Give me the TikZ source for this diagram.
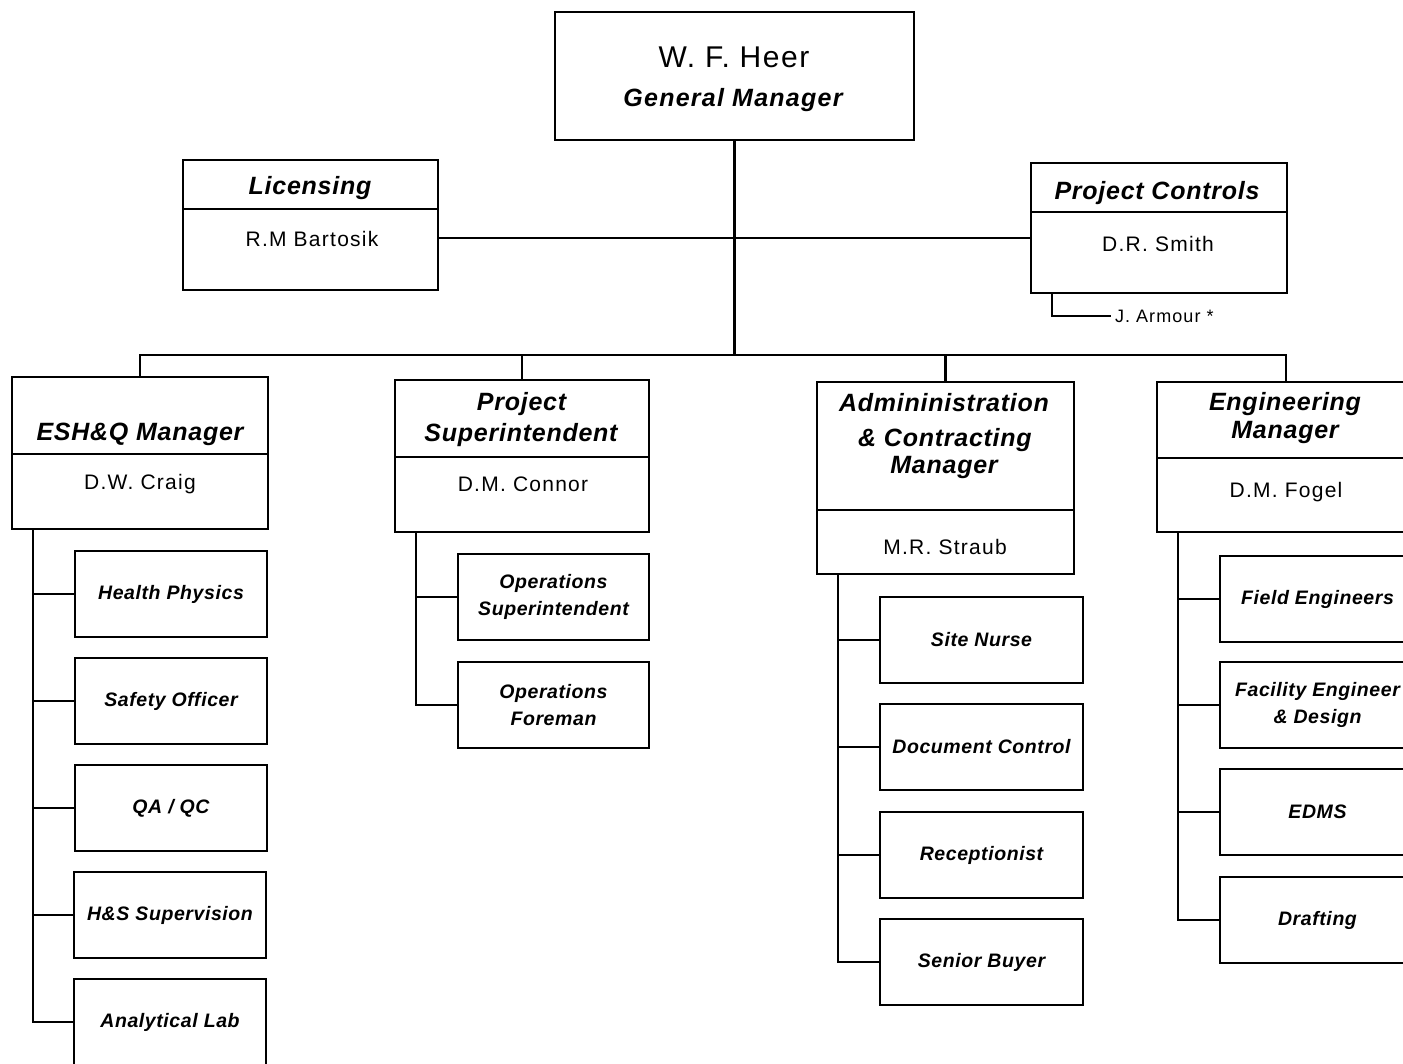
\documentclass[tikz,border=0pt]{standalone}
\usepackage{fontspec}
\setmainfont{Liberation Sans}[LetterSpace=3]
\newfontfamily\namefont{Liberation Sans}[LetterSpace=6]
\newfontfamily\widefont{Liberation Sans}[LetterSpace=5]
\usetikzlibrary{calc}

\begin{document}
\begin{tikzpicture}[x=1pt,y=-1pt,
  frame/.style={draw, line width=2.3pt, inner sep=0pt, outer sep=0pt, anchor=north west},
  wire/.style={line width=2.3pt},
  ln/.style={inner sep=0pt, outer sep=0pt, anchor=center, text depth=0pt},
  gmname/.style={ln, font=\widefont\fontsize{30}{34}\selectfont, text height=21.5pt},
  gmrole/.style={ln, font=\widefont\fontsize{25}{30}\selectfont\bfseries\itshape, text height=17.9pt},
  head/.style={ln, font=\fontsize{25}{30}\selectfont\bfseries\itshape, text height=17.9pt},
  who/.style={ln, font=\namefont\fontsize{21}{25}\selectfont, text height=15pt},
  unit/.style={frame, font=\fontsize{19.5}{26.5}\selectfont\bfseries\itshape, align=center, minimum height=86pt},
]
\useasboundingbox (0,0) rectangle (1403,1063);
\fill[white] (0,0) rectangle (1403,1063);
\clip (0,0) rectangle (1403,1063);

% General manager
\node[frame, minimum width=359pt, minimum height=128pt] (gm) at (555,12) {};
\node[gmname] (gmN) at (734,57) {W. F. Heer};
\node[gmrole] (gmR) at (733,97.5) {General Manager};

% Staff boxes
\node[frame, minimum width=255pt, minimum height=49pt] (licT) at (183,160) {};
\node[frame, minimum width=255pt, minimum height=81pt] (licN) at (183,209) {};
\node[head] (licTx) at (310,186) {Licensing};
\node[who] (licNx) at (312,239) {R.M Bartosik};

\node[frame, minimum width=256pt, minimum height=49pt] (pcT) at (1031,163) {};
\node[frame, minimum width=256pt, minimum height=81pt] (pcN) at (1031,212) {};
\node[head] (pcTx) at (1157,191) {Project Controls};
\node[who] (pcNx) at (1158,244) {D.R. Smith};
\node[who, font=\namefont\fontsize{18}{22}\selectfont, text height=13pt, anchor=west, inner xsep=4pt] (ja) at (1111,316) {J. Armour *};

% Department managers
\node[frame, minimum width=256pt, minimum height=77pt] (eshT) at (12,377) {};
\node[frame, minimum width=256pt, minimum height=75pt] (eshN) at (12,454) {};
\node[head] (eshTx) at (140,431.5) {ESH\&Q Manager};
\node[who] (eshNx) at (140,482) {D.W. Craig};

\node[frame, minimum width=254pt, minimum height=77pt] (psT) at (395,380) {};
\node[frame, minimum width=254pt, minimum height=75pt] (psN) at (395,457) {};
\node[head] (psTx1) at (521.5,401.5) {Project};
\node[head] (psTx2) at (521,432.5) {Superintendent};
\node[who] (psNx) at (523,484) {D.M. Connor};

\node[frame, minimum width=257pt, minimum height=128pt] (adT) at (817,382) {};
\node[frame, minimum width=257pt, minimum height=64pt] (adN) at (817,510) {};
\node[head] (adTx1) at (944,403) {Admininistration};
\node[head] (adTx2) at (945,437.5) {\& Contracting};
\node[head] (adTx3) at (944,465) {Manager};
\node[who] (adNx) at (945,547) {M.R. Straub};

\node[frame, minimum width=258pt, minimum height=76pt] (enT) at (1157,382) {};
\node[frame, minimum width=258pt, minimum height=74pt] (enN) at (1157,458) {};
\node[head] (enTx1) at (1285,401.5) {Engineering};
\node[head] (enTx2) at (1285,430) {Manager};
\node[who] (enNx) at (1286,490) {D.M. Fogel};

% Sections
\node[unit, minimum width=192pt] (hp) at (75,551) {Health Physics};
\node[unit, minimum width=192pt] (so) at (75,658) {Safety Officer};
\node[unit, minimum width=192pt] (qa) at (75,765) {QA / QC};
\node[unit, minimum width=192pt] (hs) at (74,872) {H\&S Supervision};
\node[unit, minimum width=192pt] (al) at (74,979) {Analytical Lab};

\node[unit, minimum width=191pt] (os) at (458,554) {Operations\\Superintendent};
\node[unit, minimum width=191pt] (of) at (458,662) {Operations\\Foreman};

\node[unit, minimum width=203pt] (sn) at (880,597) {Site Nurse};
\node[unit, minimum width=203pt] (dc) at (880,704) {Document Control};
\node[unit, minimum width=203pt] (rc) at (880,812) {Receptionist};
\node[unit, minimum width=203pt] (sb) at (880,919) {Senior Buyer};

\node[unit, minimum width=195pt] (fe) at (1220,556) {Field Engineers};
\node[unit, minimum width=195pt] (fa) at (1220,662) {Facility Engineer\\\& Design};
\node[unit, minimum width=195pt] (ed) at (1220,769) {EDMS};
\node[unit, minimum width=195pt] (dr) at (1220,877) {Drafting};

% Reporting lines
\coordinate (bus) at ($(eshT.north)+(0,-22)$);
\draw[wire] (eshT.north) -- (bus) -| (enT.north);
\draw[wire] (gm.south) -- (gm.south |- bus);
\draw[wire] (psT.north) -- (psT.north |- bus);
\draw[wire] (adT.north) -- (adT.north |- bus);
\coordinate (lk) at ($(licN.north east)+(0,29)$);
\draw[wire] (lk) -- (lk -| pcN.west);
\draw[wire] ($(pcN.south west)+(21,0)$) |- (ja.west);

\coordinate (eshS) at ($(eshN.south west)+(21,0)$);
\draw[wire] (eshS) |- (al.west);
\foreach \u in {hp,so,qa,hs} \draw[wire] (\u.west) -- (\u.west -| eshS);

\coordinate (psS) at ($(psN.south west)+(21,0)$);
\draw[wire] (psS) |- (of.west);
\draw[wire] (os.west) -- (os.west -| psS);

\coordinate (adS) at ($(adN.south west)+(21,0)$);
\draw[wire] (adS) |- (sb.west);
\foreach \u in {sn,dc,rc} \draw[wire] (\u.west) -- (\u.west -| adS);

\coordinate (enS) at ($(enN.south west)+(21,0)$);
\draw[wire] (enS) |- (dr.west);
\foreach \u in {fe,fa,ed} \draw[wire] (\u.west) -- (\u.west -| enS);
\end{tikzpicture}
\end{document}
